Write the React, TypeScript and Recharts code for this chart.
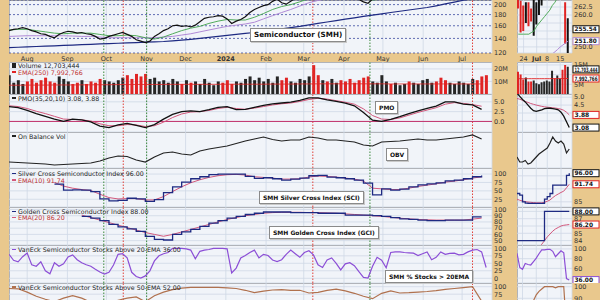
import React from 'react';
import { ComposedChart, Line, Bar, Cell, XAxis, YAxis, CartesianGrid, ReferenceLine } from 'recharts';

// time axis: calendar days after 2023-07-18
const monthTicks = [14, 45, 75, 106, 136, 167, 198, 227, 258, 288, 319, 349];
const monthLabels = ['Aug', 'Sep', 'Oct', 'Nov', 'Dec', '2024', 'Feb', 'Mar', 'Apr', 'May', 'Jun', 'Jul'];
const redMarks = [88, 234, 357];
const greenMarks = [73, 106, 278];

// sampled twice a week
const price = [
  152, 154, 155, 157, 155, 152, 150, 147, 146, 143, 141, 146, 149, 151, 150, 148, 149, 147, 146, 143,
  139, 140, 143, 145, 147, 149, 146, 143, 138, 136, 134, 136, 143, 147, 152, 155, 160, 161, 159, 160,
  158, 161, 167, 173, 175, 176, 178, 177, 172, 164, 168, 171, 176, 184, 190, 194, 198, 200, 207, 212,
  204, 201, 207, 214, 220, 226, 232, 222, 218, 224, 220, 223, 226, 222, 219, 216, 214, 211, 206, 203,
  212, 216, 220, 225, 222, 228, 232, 235, 233, 238, 240, 245, 252, 258, 256, 254, 250, 256, 258, 263,
  270, 276, 280, 276, 258, 255,
];
const volume = [
  15, 9, 11, 8, 10, 12, 9, 11, 13, 10, 9, 14, 12, 10, 8, 9, 11, 8, 10, 9,
  12, 11, 10, 9, 11, 13, 15, 12, 16, 14, 16, 12, 13, 10, 11, 9, 12, 10, 8, 11,
  9, 10, 8, 12, 9, 7, 10, 9, 11, 8, 10, 9, 12, 14, 11, 13, 10, 12, 9, 14,
  11, 13, 10, 9, 12, 11, 14, 23, 15, 11, 10, 12, 9, 11, 10, 12, 9, 11, 13, 14,
  10, 9, 15, 10, 8, 9, 7, 8, 10, 9, 8, 11, 12, 9, 10, 13, 11, 9, 8, 10,
  9, 8, 12, 11, 14, 15,
];
const above20 = [
  80, 60, 55, 72, 84, 45, 40, 55, 25, 15, 52, 40, 48, 71, 78, 62, 52, 45, 40, 30,
  21, 14, 20, 44, 80, 82, 68, 20, 6, 1, 8, 25, 58, 75, 82, 86, 100, 100, 100, 98,
  94, 65, 90, 94, 96, 100, 100, 100, 98, 18, 34, 68, 76, 86, 94, 68, 80, 76, 61, 56,
  62, 80, 94, 82, 70, 86, 92, 78, 45, 36, 61, 68, 50, 28, 48, 52, 42, 22, 3, 1,
  40, 70, 60, 35, 86, 88, 88, 86, 85, 84, 76, 82, 88, 62, 70, 88, 80, 83, 84, 78,
  80, 88, 94, 96, 88, 36,
];

// sampled weekly
const ma20 = [
  153, 154, 154, 152, 150, 148, 147, 148, 148, 148, 146, 144, 144, 145, 144, 141, 139, 142, 147, 152,
  156, 159, 164, 168, 171, 170, 170, 175, 182, 190, 196, 200, 206, 213, 218, 220, 221, 220, 216, 213,
  210, 212, 218, 224, 230, 236, 243, 250, 253, 255, 260, 266, 267,
];
const ma50 = [
  143, 143.5, 144, 144, 144, 144, 144, 143.5, 143, 143, 142, 141, 141, 141, 141, 141, 141, 142, 143, 145,
  147, 150, 153, 156, 159, 161, 163, 166, 172, 178, 184, 190, 197, 204, 209, 213, 216, 218, 220, 220,
  220, 220, 221, 223, 226, 229, 233, 238, 242, 245, 248, 250, 252,
];
const ma200 = [
  127, 127.5, 128, 128.5, 129, 129.5, 130, 130.5, 131, 131.5, 132, 132.5, 133, 133.5, 134, 134.5, 135, 135.5, 136.5, 137.5,
  138.5, 140, 141.5, 143, 144.5, 146, 147.5, 149, 151, 153, 155, 157, 159, 161.5, 164, 166.5, 169, 171.5, 174, 176.5,
  179, 181.5, 184, 186.5, 189, 191.5, 194, 197.5, 201.5, 205.5, 209.5, 212.5, 215,
];
const volEma = [
  7.0, 7.0, 7.1, 7.1, 7.1, 7.2, 7.2, 7.2, 7.3, 7.3, 7.4, 7.4, 7.5, 7.5, 7.6, 7.6, 7.6, 7.6, 7.7, 7.7,
  7.7, 7.7, 7.7, 7.7, 7.8, 7.8, 7.8, 7.8, 7.8, 7.9, 7.9, 7.9, 8.0, 8.0, 8.1, 8.1, 8.1, 8.1, 8.1, 8.1,
  8.1, 8.1, 8.0, 8.0, 8.0, 8.0, 8.0, 8.0, 8.0, 8.0, 8.0, 8.0, 7.99,
];
const pmo = [
  3.8, 3.5, 2.8, 2.0, 1.3, 0.6, 0.0, 0.6, 0.4, -0.1, -1.2, -1.6, -0.9, -0.5, -1.0, -1.6, -0.8, 0.6, 1.8, 2.5,
  2.7, 2.5, 3.0, 3.6, 3.8, 3.0, 3.1, 3.6, 4.1, 4.5, 4.7, 4.9, 5.4, 6.0, 6.0, 5.5, 5.1, 4.7, 4.0, 2.3,
  0.3, 0.0, 0.5, 1.2, 2.0, 2.7, 3.3, 3.9, 5.0, 5.0, 4.4, 4.2, 3.08,
];
const pmoSignal = [
  4.0, 3.8, 3.3, 2.6, 2.0, 1.3, 0.6, 0.5, 0.4, 0.1, -0.6, -1.1, -1.1, -0.8, -0.9, -1.3, -1.1, -0.2, 1.0, 1.9,
  2.4, 2.5, 2.8, 3.3, 3.6, 3.3, 3.1, 3.4, 3.8, 4.2, 4.5, 4.7, 5.1, 5.6, 5.9, 5.7, 5.3, 4.9, 4.4, 3.2,
  1.5, 0.6, 0.5, 0.9, 1.6, 2.3, 2.9, 3.5, 4.4, 4.8, 4.6, 4.3, 3.88,
];
const obv = [
  60, 55, 50, 45, 40, 30, 35, 40, 45, 50, 70, 100, 120, 115, 80, 60, 110, 150, 160, 140,
  130, 170, 190, 205, 220, 245, 270, 290, 310, 285, 270, 280, 280, 310, 300, 280, 280, 270, 260, 230,
  220, 260, 265, 270, 280, 290, 280, 280, 290, 300, 310, 330, 290,
];
const sci = [
  null, null, null, null, null, 70, 52, 53, 52, 48, 26, 20, 22, 28, 26, 19, 24, 45, 62, 76,
  86, 92, 98, 100, 100, 100, 93, 87, 89, 86, 82, 85, 88, 95, 96, 91, 89, 86, 82, 73,
  38, 56, 52, 55, 62, 68, 71, 74, 80, 82, 86, 92, 96,
];
const sciEma = [
  null, null, null, null, null, 75, 64, 58, 54, 51, 40, 30, 26, 27, 27, 23, 23, 33, 48, 62,
  74, 83, 90, 95, 98, 99, 97, 92, 90, 88, 85, 85, 86, 91, 94, 93, 91, 88, 85, 79,
  58, 56, 54, 54, 58, 63, 67, 71, 76, 79, 83, 88, 91.74,
];
const gci = [
  null, null, null, null, null, null, null, null, 89, 86, 82, 76, 72, 69, 65, 57, 52, 51, 60, 64,
  68, 73, 78, 82, 86, 89, 92, 94, 96, 96, 96, 95, 95, 95, 94, 94, 94, 91, 91, 91,
  90, 89, 87, 85, 84, 83, 82, 82, 83, 83, 83, 88, 88,
];
const gciEma = [
  null, null, null, null, null, null, null, null, 91, 87, 83, 79, 75, 71, 67, 63, 60, 57, 60, 64,
  68, 72, 76, 80, 84, 87, 90, 92, 94, 95, 95.5, 95.5, 95.5, 95, 95, 94.5, 94, 93, 92, 91,
  90, 89, 87.5, 86, 85, 84, 83.5, 83, 83, 83, 83, 84.5, 86.2,
];
const above50 = [
  94, 93, 82, 68, 58, 50, 62, 70, 62, 48, 35, 40, 55, 62, 66, 50, 70, 82, 90, 95,
  98, 98, 98, 98, 96, 94, 88, 80, 85, 89, 90, 88, 88, 79, 81, 88, 92, 86, 78, 68,
  60, 78, 86, 79, 80, 82, 84, 87, 91, 94, 97, 100, 52,
];

// last month, daily (right-hand panels)
const recentDays = ['20', '21', '24', '25', '26', '27', '28', '1', '2', '3', '5', '8', '9', '10', '11', '12', '15', '16', '17', '18', '19'];
const recentTicks = ['24', '1', '8', '15'];
const recentLow = [262, 254.5, 255, 257.5, 256.5, 258, 253.5, 257, 260, 263, 266, 268, 270, 276, 268, 270, 272, 266, 251, 247, null];
const recentHigh = [268, 264.5, 263, 264, 264, 262, 266, 264, 266.5, 270, 272, 275, 277, 284, 279, 276, 279, 279, 264, 259, null];
const recentDown = [1, 1, 1, 0, 1, 1, 0, 0, 0, 0, 0, 0, 0, 0, 1, 0, 0, 1, 1, 0, 0];
const recentMa20 = [254, 254, 254, 254, 254, 254.5, 255, 256.5, 257.5, 258.5, 259.5, 260.5, 261.5, 263, 264, 265.5, 266.5, 267.5, 267.5, 267, null];
const recentMa50 = [236, 237, 238, 238.5, 239.5, 240, 241, 242.5, 243.5, 244.5, 245.5, 246.3, 247, 247.8, 248.5, 249.2, 250, 250.6, 251.2, 251.8, null];
const recentVol = [11.5, 10, 7.5, 8.5, 6.5, 6.5, 7, 5.5, 5, 6, 6.5, 7, 6.5, 12, 8, 9.5, 8, 12.5, 15, 14, null];
const recentVolEma = [7.9, 7.9, 7.9, 7.9, 7.9, 7.9, 7.9, 7.9, 7.9, 7.9, 7.9, 7.9, 7.9, 7.95, 7.95, 7.95, 7.95, 7.97, 7.98, 7.99, null];
const recentPmo = [5.25, 5.05, 4.85, 4.7, 4.5, 4.3, 4.15, 4.1, 4.15, 4.2, 4.28, 4.3, 4.3, 4.28, 4.25, 4.2, 4.05, 3.8, 3.45, 3.08, null];
const recentPmoSignal = [4.92, 4.87, 4.8, 4.73, 4.67, 4.6, 4.55, 4.5, 4.46, 4.42, 4.39, 4.37, 4.35, 4.33, 4.31, 4.28, 4.24, 4.17, 4.05, 3.88, null];
const recentObv = [11, 6, 6, 7.5, 4, 5, 8, 11, 14, 16, 18, 20, 25, 31, 27, 25, 27, 24, 15, 19, null];
const recentSci = [88.2, 87.6, 85, 84.5, 84.4, 84.4, 84.4, 84.4, 84.4, 84.4, 86, 87, 88.2, 91.4, 91.4, 91.4, 91.4, 91.4, 95.2, 96, null];
const recentSciEma = [86, 85.6, 85.3, 85.1, 84.9, 84.8, 84.7, 84.6, 84.6, 84.6, 84.8, 85.2, 85.7, 86.6, 87.4, 88, 88.6, 89.1, 90.4, 91.74, null];
const recentGci = [84, 84, 84, 84, 84, 84, 84, 84, 84, 84, 88, 88, 88, 88, 88, 88, 88, 88, 88, 88, null];
const recentGciEma = [82.8, 82.8, 82.8, 82.8, 82.9, 82.9, 82.9, 83.0, 83.1, 83.5, 84.0, 84.5, 84.9, 85.3, 85.6, 85.8, 86.0, 86.1, 86.15, 86.2, null];
const recentAbove20 = [91, 62, 58, 70, 68, 67, 74, 81, 90, 98, 98, 99, 99, 95, 84, 90, 96, 92, 39, 36, null];
const recentAbove50 = [75, 72, 70, 72, 78, 85, 88, 93, 96, 98, 100, 100, 100, 100, 99, 100, 100, 100, 64, 52, null];

const FONT = '"DejaVu Sans", Verdana, sans-serif';
const TAN = '#e9c88d';
const PLOT = '#f1f4f9';
const GRID = '#cfd8e6';
const FRAME = '#9c9c9c';
const RED = '#e02424';
const PINK = '#d2587c';
const NAVY = '#1e2a82';

const MAIN_L = 9, MAIN_W = 483, MAIN_AX = 25;
const SMALL_L = 517, SMALL_W = 55, SMALL_AX = 28;
const DATE_H = 9;

const halfDays = price.map((_, i) => i * 3.5);
const weekDays = ma200.map((_, i) => i * 7);
const series = (days: number[], vals: (number | null)[]) => days.map((d, i) => ({ d, v: vals[i] }));
const volumeRows = halfDays.map((d, i) => ({ d, v: volume[i], down: i > 0 && price[i] < price[i - 1] }));
const recentRows = recentDays.map((day, i) => ({
  day,
  range: recentLow[i] == null ? null : [recentLow[i], recentHigh[i]],
  down: recentDown[i] === 1,
  ma20: recentMa20[i], ma50: recentMa50[i],
  vol: recentVol[i], volEma: recentVolEma[i],
  pmo: recentPmo[i], pmoSignal: recentPmoSignal[i],
  obv: recentObv[i],
  sci: recentSci[i], sciEma: recentSciEma[i],
  gci: recentGci[i], gciEma: recentGciEma[i],
  a20: recentAbove20[i], a50: recentAbove50[i],
}));

const axisTick = { fontSize: 6.5, fill: '#333', fontFamily: FONT };

function MonthTick({ x, y, payload }: any) {
  const label = monthLabels[monthTicks.indexOf(payload.value)];
  return (
    <text x={x} y={y + 6} textAnchor="middle" fontSize={6.5} fontFamily={FONT} fill="#333" fontWeight={label === '2024' ? 'bold' : 'normal'}>
      {label}
    </text>
  );
}

function DayTick({ x, y, payload }: any) {
  const label = payload.value === '1' ? 'Jul' : payload.value;
  return (
    <text x={x} y={y + 6} textAnchor="middle" fontSize={6.5} fontFamily={FONT} fill="#333" fontWeight={label === 'Jul' ? 'bold' : 'normal'}>
      {label}
    </text>
  );
}

// value box drawn in the right axis at the series' last value
function ValueTag({ viewBox, text, color }: any) {
  if (!viewBox) return null;
  const x = viewBox.x + viewBox.width + 1;
  const y = viewBox.y;
  const w = 26;
  return (
    <g>
      <rect x={x} y={y - 3.5} width={w} height={7} fill="#fff" stroke={color} strokeWidth={1} />
      <text x={x + 1.5} y={y + 2.2} fontSize={6} fontWeight="bold" fontFamily={FONT} fill="#111"
        textLength={Math.min(text.length * 3.7, w - 3)} lengthAdjust="spacingAndGlyphs">{text}</text>
    </g>
  );
}

function MainPanel({ top, height, domain, ticks, labels, fmt, log, dateAxis, priceGrid, data, children }: any) {
  const h = height + (dateAxis ? DATE_H : 0);
  return (
    <div style={{ position: 'absolute', left: MAIN_L, top, width: MAIN_W + MAIN_AX, height: h }}>
      <div style={{ position: 'absolute', left: 0, top: 0, width: MAIN_W, height, background: PLOT, borderTop: `1px solid ${FRAME}`, borderLeft: `1px solid ${FRAME}`, boxSizing: 'border-box' }} />
      <div style={{ position: 'absolute', left: 0, top: 0 }}>
        <ComposedChart width={MAIN_W + MAIN_AX} height={h} data={data} margin={{ top: 0, right: 0, bottom: 0, left: 0 }}>
          <CartesianGrid stroke={GRID} strokeWidth={0.8} horizontal={!priceGrid} />
          {priceGrid && <CartesianGrid stroke="#3b4aa0" strokeDasharray="2 2" strokeWidth={0.8} vertical={false} />}
          <XAxis dataKey="d" type="number" domain={[0, 372]} ticks={monthTicks} allowDataOverflow hide={!dateAxis}
            height={DATE_H} axisLine={false} tickLine={false} tickSize={0} tick={<MonthTick />} interval={0} />
          <YAxis orientation="right" width={MAIN_AX} type="number" domain={domain} ticks={ticks} scale={log ? 'log' : 'linear'}
            allowDataOverflow axisLine={false} tickLine={false} tickSize={0} tickMargin={2}
            tick={fmt ? axisTick : false} tickFormatter={(v: number) => (labels && !labels.includes(v) ? '' : fmt ? fmt(v) : '')} interval={0} />
          {redMarks.map((d) => <ReferenceLine key={'r' + d} x={d} stroke="#e0403a" strokeDasharray="1.5 1.5" />)}
          {greenMarks.map((d) => <ReferenceLine key={'g' + d} x={d} stroke="#3c8a3c" strokeDasharray="1.5 1.5" />)}
          {children}
        </ComposedChart>
      </div>
    </div>
  );
}

function SmallPanel({ top, height, domain, ticks, labels, fmt, dateAxis, children }: any) {
  const h = height + (dateAxis ? DATE_H : 0);
  return (
    <div style={{ position: 'absolute', left: SMALL_L, top, width: SMALL_W + SMALL_AX, height: h }}>
      <div style={{ position: 'absolute', left: 0, top: 0, width: SMALL_W, height, background: PLOT, borderTop: `1px solid ${FRAME}`, borderLeft: `1px solid ${FRAME}`, boxSizing: 'border-box' }} />
      <div style={{ position: 'absolute', left: 0, top: 0 }}>
        <ComposedChart width={SMALL_W + SMALL_AX} height={h} data={recentRows} margin={{ top: 0, right: 0, bottom: 0, left: 0 }}>
          <CartesianGrid stroke={GRID} strokeWidth={0.8} />
          <XAxis dataKey="day" ticks={recentTicks} hide={!dateAxis} height={DATE_H} axisLine={false} tickLine={false}
            tickSize={0} tick={<DayTick />} interval={0} />
          <YAxis orientation="right" width={SMALL_AX} type="number" domain={domain} ticks={ticks} allowDataOverflow
            axisLine={false} tickLine={false} tickSize={0} tickMargin={2} tick={fmt ? axisTick : false}
            tickFormatter={(v: number) => (labels && !labels.includes(v) ? '' : fmt ? fmt(v) : '')} interval={0} />
          {children}
        </ComposedChart>
      </div>
    </div>
  );
}

function Key({ left, top, color, text, textColor, bar }: any) {
  return (
    <div style={{ position: 'absolute', left, top, display: 'flex', alignItems: 'center', fontFamily: FONT, fontSize: 6.3, lineHeight: '7px', color: textColor || '#222', whiteSpace: 'nowrap' }}>
      <span style={{ display: 'inline-block', width: 4, height: bar ? 5 : 1.5, background: color, marginRight: 2 }} />
      {text}
    </div>
  );
}

function Note({ left, top, text, size = 6 }: any) {
  return (
    <div style={{ position: 'absolute', left, top, padding: '1px 3px', background: '#fff', border: '1px solid #8a8a8a', boxShadow: '1px 1px 0 #c9c9c9', fontFamily: FONT, fontWeight: 'bold', fontSize: size, lineHeight: `${size + 3}px`, color: '#111', whiteSpace: 'nowrap' }}>
      {text}
    </div>
  );
}

const line = { dataKey: 'v', dot: false, isAnimationActive: false };
const f1 = (v: number) => v.toFixed(1);
const fInt = (v: number) => String(v);
const fM = (v: number) => `${v}M`;

export default function App() {
  return (
    <div style={{ position: 'fixed', left: 0, top: 0, width: 600, height: 300, overflow: 'hidden', background: TAN }}>
      {/* price */}
      <MainPanel top={0} height={53} domain={[120, 210]} ticks={[120, 140, 160, 180, 200]} fmt={fInt} log dateAxis priceGrid>
        <Line data={series(weekDays, ma200)} {...line} stroke={NAVY} strokeWidth={1.2} />
        <Line data={series(weekDays, ma50)} {...line} stroke="#b08ad6" strokeWidth={1} />
        <Line data={series(weekDays, ma20)} {...line} stroke="#3fa34a" strokeWidth={0.9} />
        <Line data={series(halfDays, price)} {...line} stroke="#111" strokeWidth={1.2} />
      </MainPanel>
      {/* volume */}
      <MainPanel top={62} height={32} domain={[0, 25.5]} ticks={[10, 20]} fmt={fM} data={volumeRows}>
        <Bar dataKey="v" barSize={3} isAnimationActive={false}>
          {volumeRows.map((r, i) => <Cell key={i} fill={r.down ? RED : '#262626'} />)}
        </Bar>
        <Line data={series(weekDays, volEma)} {...line} stroke={RED} strokeWidth={0.8} />
      </MainPanel>
      {/* PMO */}
      <MainPanel top={94} height={38} domain={[-2.7, 7]} ticks={[0, 2.5, 5]} fmt={f1}>
        <ReferenceLine y={0} stroke="#c2306a" strokeWidth={1} />
        <Line data={series(weekDays, pmoSignal)} {...line} stroke={PINK} strokeWidth={1} />
        <Line data={series(weekDays, pmo)} {...line} stroke="#111" strokeWidth={1.3} />
      </MainPanel>
      {/* OBV */}
      <MainPanel top={132} height={36} domain={[0, 360]} ticks={[100, 200, 300]}>
        <Line data={series(weekDays, obv)} {...line} stroke="#222" strokeWidth={1.2} />
      </MainPanel>
      {/* Silver cross */}
      <MainPanel top={168} height={39} domain={[2, 118]} ticks={[25, 50, 75, 100]} fmt={fInt}>
        <Line data={series(weekDays, sciEma)} {...line} stroke={PINK} strokeWidth={1} />
        <Line data={series(weekDays, sci)} {...line} stroke={NAVY} strokeWidth={1.3} type="stepAfter" />
      </MainPanel>
      {/* Golden cross */}
      <MainPanel top={207} height={38} domain={[43, 104]} ticks={[50, 60, 70, 80, 90, 100]} fmt={fInt}>
        <Line data={series(weekDays, gciEma)} {...line} stroke={PINK} strokeWidth={1} />
        <Line data={series(weekDays, gci)} {...line} stroke={NAVY} strokeWidth={1.3} type="stepAfter" />
      </MainPanel>
      {/* % above 20-EMA */}
      <MainPanel top={245} height={38} domain={[-15.7, 111]} ticks={[0, 25, 50, 75, 100]} fmt={fInt}>
        <Line data={series(halfDays, above20)} {...line} stroke="#8c4fd6" strokeWidth={1.2} />
      </MainPanel>
      {/* % above 50-EMA (runs past the bottom edge) */}
      <MainPanel top={283} height={38} domain={[-14.3, 112.3]} ticks={[0, 25, 50, 75, 100]} labels={[75, 100]} fmt={fInt}>
        <Line data={series(weekDays, above50)} {...line} stroke="#b0714e" strokeWidth={1.2} />
      </MainPanel>

      {/* right-hand zoom panels */}
      <SmallPanel top={0} height={53} domain={[248.1, 264.7]} ticks={[250, 252.5, 255, 257.5, 260, 262.5]} labels={[250, 260, 262.5]} fmt={f1} dateAxis>
        <Line dataKey="ma50" dot={false} isAnimationActive={false} stroke="#b08ad6" strokeWidth={1} />
        <Line dataKey="ma20" dot={false} isAnimationActive={false} stroke="#3fa34a" strokeWidth={0.9} />
        <Bar dataKey="range" barSize={2} isAnimationActive={false}>
          {recentRows.map((r, i) => <Cell key={i} fill={r.down ? RED : '#111'} />)}
        </Bar>
        <ReferenceLine y={255.54} stroke="none" label={<ValueTag text="255.54" color="#111" />} />
        <ReferenceLine y={251.8} stroke="none" label={<ValueTag text="251.80" color="#b08ad6" />} />
      </SmallPanel>
      <SmallPanel top={62} height={32} domain={[0, 16.5]} ticks={[5, 10, 15]} labels={[5, 15]} fmt={fM}>
        <Bar dataKey="vol" barSize={2} isAnimationActive={false}>
          {recentRows.map((r, i) => <Cell key={i} fill={r.down ? RED : '#262626'} />)}
        </Bar>
        <Line dataKey="volEma" dot={false} isAnimationActive={false} stroke={RED} strokeWidth={0.9} />
        <ReferenceLine y={12.7} stroke="none" label={<ValueTag text="12,703,444" color="#111" />} />
        <ReferenceLine y={7.99} stroke="none" label={<ValueTag text="7,992,766" color={RED} />} />
      </SmallPanel>
      <SmallPanel top={94} height={38} domain={[2.8, 5.2]} ticks={[3.5, 4.0, 4.5, 5.0]} labels={[4.5, 5.0]} fmt={f1}>
        <Line dataKey="pmoSignal" dot={false} isAnimationActive={false} stroke={PINK} strokeWidth={1} />
        <Line dataKey="pmo" dot={false} isAnimationActive={false} stroke="#111" strokeWidth={1.3} />
        <ReferenceLine y={3.88} stroke="none" label={<ValueTag text="3.88" color={RED} />} />
        <ReferenceLine y={3.08} stroke="none" label={<ValueTag text="3.08" color="#111" />} />
      </SmallPanel>
      <SmallPanel top={132} height={36} domain={[0, 36]} ticks={[10, 20, 30]}>
        <Line dataKey="obv" dot={false} isAnimationActive={false} stroke="#222" strokeWidth={1.2} />
      </SmallPanel>
      <SmallPanel top={168} height={39} domain={[83, 98]} ticks={[85, 90, 95]} labels={[85]} fmt={fInt}>
        <Line dataKey="sciEma" dot={false} isAnimationActive={false} stroke={PINK} strokeWidth={1} />
        <Line dataKey="sci" dot={false} isAnimationActive={false} stroke={NAVY} strokeWidth={1.3} type="stepAfter" />
        <ReferenceLine y={96} stroke="none" label={<ValueTag text="96.00" color="#111" />} />
        <ReferenceLine y={91.74} stroke="none" label={<ValueTag text="91.74" color={RED} />} />
      </SmallPanel>
      <SmallPanel top={207} height={38} domain={[83.4, 88.6]} ticks={[84, 85, 86, 87, 88]} labels={[84, 85, 87]} fmt={fInt}>
        <Line dataKey="gciEma" dot={false} isAnimationActive={false} stroke={PINK} strokeWidth={1} />
        <Line dataKey="gci" dot={false} isAnimationActive={false} stroke={NAVY} strokeWidth={1.3} type="stepAfter" />
        <ReferenceLine y={88} stroke="none" label={<ValueTag text="88.00" color="#111" />} />
        <ReferenceLine y={86.2} stroke="none" label={<ValueTag text="86.20" color={RED} />} />
      </SmallPanel>
      <SmallPanel top={245} height={38} domain={[30, 108]} ticks={[40, 60, 80, 100]} labels={[60, 80, 100]} fmt={fInt}>
        <Line dataKey="a20" dot={false} isAnimationActive={false} stroke="#8c4fd6" strokeWidth={1.2} />
        <ReferenceLine y={36} stroke="none" label={<ValueTag text="36.00" color="#8c4fd6" />} />
      </SmallPanel>
      <SmallPanel top={283} height={38} domain={[70.4, 103.2]} ticks={[80, 90, 100]} labels={[90, 100]} fmt={fInt}>
        <Line dataKey="a50" dot={false} isAnimationActive={false} stroke="#b0714e" strokeWidth={1.2} />
      </SmallPanel>

      {/* legends */}
      <Key left={12} top={62} color="#222" bar text="Volume 12,703,444" />
      <Key left={12} top={68.5} color={RED} textColor="#c03030" text="EMA(250) 7,992,766" />
      <Key left={12} top={94.5} color="#222" text="PMO(35,20,10) 3.08, 3.88" />
      <Key left={12} top={132.5} color="#222" text="On Balance Vol" />
      <Key left={12} top={170} color={NAVY} text="Silver Cross Semiconductor Index 96.00" />
      <Key left={12} top={176.5} color={PINK} textColor="#c03030" text="EMA(10) 91.74" />
      <Key left={12} top={208.2} color={NAVY} text="Golden Cross Semiconductor Index 88.00" />
      <Key left={12} top={214} color={PINK} textColor="#c03030" text="EMA(20) 86.20" />
      <Key left={12} top={246} color="#8c4fd6" text="VanEck Semiconductor Stocks Above 20-EMA 36.00" />
      <Key left={12} top={283.5} color="#b0714e" text="VanEck Semiconductor Stocks Above 50-EMA 52.00" />

      {/* panel notes */}
      <Note left={250} top={28} text="Semiconductor (SMH)" size={7.2} />
      <Note left={375} top={101} text="PMO" />
      <Note left={386} top={148} text="OBV" />
      <Note left={259} top={190.5} text="SMH Silver Cross Index (SCI)" />
      <Note left={269} top={226} text="SMH Golden Cross Index (GCI)" />
      <Note left={385} top={269.5} text="SMH % Stocks > 20EMA" />
    </div>
  );
}
